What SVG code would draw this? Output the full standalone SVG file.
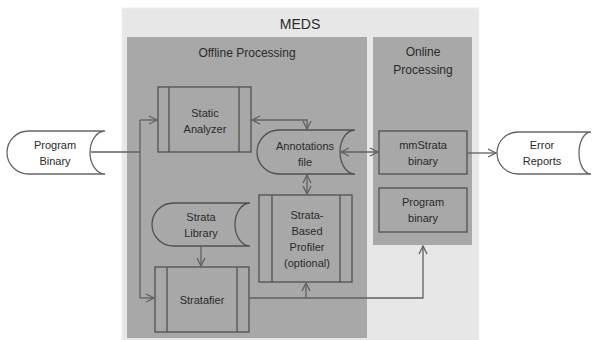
<svg xmlns="http://www.w3.org/2000/svg" width="593" height="340" viewBox="0 0 593 340">
<defs>
<style>
.t{font-family:"Liberation Sans",Arial,sans-serif;font-size:11px;fill:#2a2a2a;text-anchor:middle}
.h{font-family:"Liberation Sans",Arial,sans-serif;font-size:12px;fill:#2a2a2a;text-anchor:middle}
.sh{fill:none;stroke:#505050;stroke-width:1.3}
.wh{fill:#fff;stroke:#666;stroke-width:1.3}
.c{fill:none;stroke:#606060;stroke-width:1.3}
</style>
<marker id="ah" viewBox="0 0 10 10" refX="9" refY="5" markerWidth="10" markerHeight="10" markerUnits="userSpaceOnUse" orient="auto-start-reverse">
<path d="M1,1 L9,5 L1,9" fill="none" stroke="#606060" stroke-width="1.3"/>
</marker>
</defs>
<rect width="593" height="340" fill="#fff"/>
<g id="meds">
<rect x="122" y="8" width="357" height="340" fill="#e7e7e7" stroke="#f0f0f0"/>
<text x="300" y="29" class="h" style="font-size:14px">MEDS</text>
</g>
<g id="offline">
<rect x="127" y="37" width="240" height="301" fill="#a8a8a8"/>
<text x="247" y="57" class="h">Offline Processing</text>
</g>
<g id="online">
<rect x="373" y="37" width="99" height="208" fill="#a8a8a8"/>
<text x="423" y="56" class="h">Online</text>
<text x="423" y="74" class="h">Processing</text>
</g>
<g id="program-binary-in">
<path class="wh" d="M28.5,131 H105 A15,21.5 0 0 0 105,174 H28.5 A21.5,21.5 0 0 1 28.5,131 Z"/>
<text x="55" y="149" class="t">Program</text>
<text x="55" y="165" class="t">Binary</text>
</g>
<g id="static-analyzer">
<rect class="sh" x="158" y="87" width="93" height="65"/>
<path class="sh" d="M169,87 V152 M239,87 V152"/>
<text x="205" y="117" class="t">Static</text>
<text x="205" y="133" class="t">Analyzer</text>
</g>
<g id="annotations">
<path class="sh" d="M279,130 H355 A15,22 0 0 0 355,174 H279 A22,22 0 0 1 279,130 Z"/>
<text x="305" y="150" class="t">Annotations</text>
<text x="305" y="166" class="t">file</text>
</g>
<g id="strata-library">
<path class="sh" d="M173.5,203 H250 A15,21.5 0 0 0 250,246 H173.5 A21.5,21.5 0 0 1 173.5,203 Z"/>
<text x="201" y="221" class="t">Strata</text>
<text x="201" y="237" class="t">Library</text>
</g>
<g id="profiler">
<rect class="sh" x="259" y="195" width="93" height="87"/>
<path class="sh" d="M272,195 V282 M340,195 V282"/>
<text x="307" y="219" class="t">Strata-</text>
<text x="307" y="235" class="t">Based</text>
<text x="307" y="251" class="t">Profiler</text>
<text x="307" y="267" class="t">(optional)</text>
</g>
<g id="stratafier">
<rect class="sh" x="155" y="267" width="94" height="65"/>
<path class="sh" d="M167,267 V332 M237,267 V332"/>
<text x="202" y="304" class="t">Stratafier</text>
</g>
<g id="mmstrata">
<rect class="sh" x="379" y="131" width="88" height="43"/>
<text x="423" y="149" class="t">mmStrata</text>
<text x="423" y="165" class="t">binary</text>
</g>
<g id="program-binary-out">
<rect class="sh" x="379" y="188" width="88" height="44"/>
<text x="423" y="206" class="t">Program</text>
<text x="423" y="222" class="t">binary</text>
</g>
<g id="error-reports">
<path class="wh" d="M518,132 H591 A12,21 0 0 0 591,174 H518 A21,21 0 0 1 518,132 Z"/>
<text x="542" y="149" class="t">Error</text>
<text x="542" y="165" class="t">Reports</text>
</g>
<g id="connectors">
<path class="c" d="M91,152 H140"/>
<path class="c" d="M140,120 V298"/>
<path class="c" d="M140,120 H157" marker-end="url(#ah)"/>
<path class="c" d="M140,298 H154" marker-end="url(#ah)"/>
<path class="c" d="M252,120 H307 V129" marker-start="url(#ah)" marker-end="url(#ah)"/>
<path class="c" d="M341,152 H378" marker-start="url(#ah)" marker-end="url(#ah)"/>
<path class="c" d="M307,175 V194" marker-start="url(#ah)" marker-end="url(#ah)"/>
<path class="c" d="M201,246 V266" marker-end="url(#ah)"/>
<path class="c" d="M249,298 H423 V246" marker-end="url(#ah)"/>
<path class="c" d="M306,298 V283" marker-end="url(#ah)"/>
<path class="c" d="M467,153 H496" marker-end="url(#ah)"/>
</g>
</svg>
